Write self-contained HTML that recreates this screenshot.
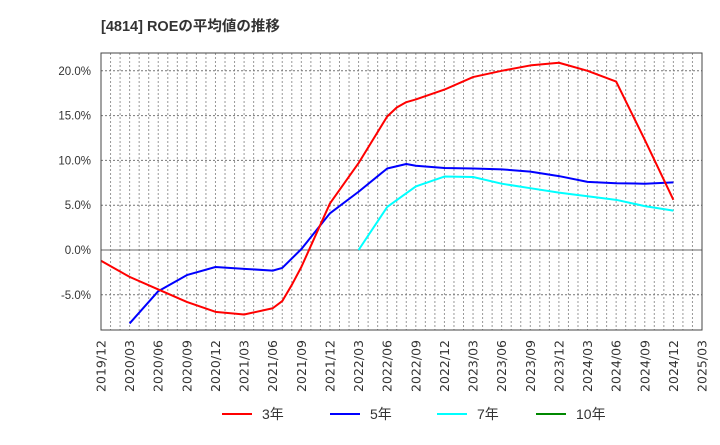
<!DOCTYPE html>
<html><head><meta charset="utf-8"><style>
body{margin:0;background:#fff;width:720px;height:440px;overflow:hidden}
svg text{font-family:"Liberation Sans","Noto Sans CJK JP",sans-serif}
</style></head><body>
<svg id="chart" width="720" height="440" xmlns="http://www.w3.org/2000/svg">
<text x="101" y="31" font-size="14.5" font-weight="bold" fill="#333">[4814]  ROEの平均値の推移</text>
<g id="grid"></g><g id="series"></g><g id="axes"></g>
<g font-size="14" fill="#333">
<line x1="222" y1="414" x2="252" y2="414" stroke="#f00" stroke-width="2"/><text x="262" y="419">3年</text>
<line x1="330" y1="414" x2="360" y2="414" stroke="#00f" stroke-width="2"/><text x="370" y="419">5年</text>
<line x1="437" y1="414" x2="467" y2="414" stroke="#0ff" stroke-width="2"/><text x="477" y="419">7年</text>
<line x1="536" y1="414" x2="566" y2="414" stroke="#080" stroke-width="2"/><text x="576" y="419">10年</text>
</g>
</svg>
<script>
const xLabels=["2019/12","2020/03","2020/06","2020/09","2020/12","2021/03","2021/06","2021/09","2021/12","2022/03","2022/06","2022/09","2022/12","2023/03","2023/06","2023/09","2023/12","2024/03","2024/06","2024/09","2024/12","2025/03"];
const yTicks=[-5,0,5,10,15,20];
const redM=[0,3,6,9,12,15,18,19,20,21,24,27,30,31,32,33,36,39,42,45,48,51,54,57,60];
const redV=[-1.2,-3.0,-4.4,-5.8,-6.9,-7.2,-6.5,-5.7,-3.9,-1.9,5.2,9.7,14.9,15.9,16.5,16.8,17.9,19.3,20.0,20.6,20.9,20.0,18.8,12.3,5.6];
const blueM=[3,6,9,12,15,18,19,21,24,27,30,32,33,36,39,42,45,48,51,54,57,60];
const blueV=[-8.2,-4.6,-2.8,-1.9,-2.1,-2.3,-2.0,0.1,4.1,6.5,9.1,9.6,9.4,9.15,9.1,9.0,8.75,8.25,7.6,7.45,7.4,7.55];
const cyanM=[27,30,33,36,39,42,45,48,51,54,57,60];
const cyanV=[0.0,4.8,7.1,8.2,8.15,7.4,6.9,6.4,6.0,5.6,4.9,4.4];
const L=101,R=702,T=53,B=330;
const x=m=>L+m*(R-L)/63;
const y=v=>250-v*8.96;
const NS="http://www.w3.org/2000/svg";
function mk(p,t,a){const e=document.createElementNS(NS,t);for(const k in a)e.setAttribute(k,a[k]);document.getElementById(p).appendChild(e);return e;}
for(let m=1;m<63;m++){const l=mk('grid','line',{x1:x(m),x2:x(m),y1:T,y2:B,stroke:'#999','stroke-dasharray':'2,2','stroke-width':1});

}
yTicks.forEach(v=>{const l=mk('grid','line',{x1:L,x2:R,y1:y(v),y2:y(v),stroke:v===0?'#666':'#777','stroke-dasharray':v===0?'':'2,2','stroke-width':1});


const t=mk('axes','text',{x:91,y:y(v)+4,'text-anchor':'end','font-size':11.5,fill:'#333'});


t.textContent=v.toFixed(1)+'%';});
const fr=mk('axes','rect',{x:L,y:T,width:R-L,height:B-T,fill:'none',stroke:'#444','stroke-width':1});


xLabels.forEach((s,i)=>{const px=x(i*3)+4.5;const t=mk('axes','text',{x:px,y:340,'text-anchor':'end','font-size':12.5,fill:'#333','style':'font-family:"DejaVu Sans",sans-serif',transform:`rotate(-90 ${px} 340)`});


t.textContent=s;});
function line(M,V,c,n){const p=mk('series','polyline',{points:M.map((m,i)=>x(m)+','+y(V[i])).join(' '),fill:'none',stroke:c,'stroke-width':2,'stroke-linejoin':'round'});

}
line(cyanM,cyanV,'#0ff','series-7y');
line(blueM,blueV,'#00f','series-5y');
line(redM,redV,'#f00','series-3y');
</script>
</body></html>
